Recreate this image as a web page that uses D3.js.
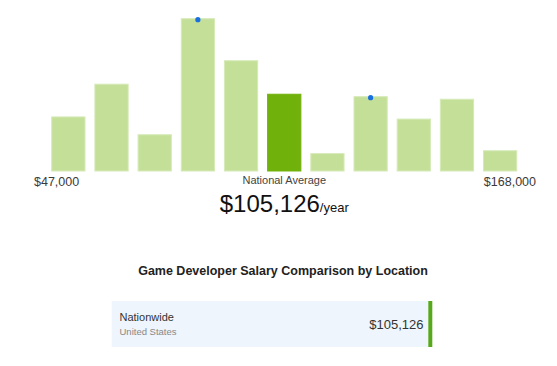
<!DOCTYPE html>
<html>
<head>
<meta charset="utf-8">
<script src="https://d3js.org/d3.v7.min.js"></script>
<style>
body { margin: 0; background: #fff; }
svg text { font-family: "Liberation Sans", Arial, sans-serif; }
</style>
</head>
<body>
<div id="chart"></div>
<script>
// histogram buckets, relative share of salaries (tallest = 100)
var buckets = ["b1", "b2", "b3", "b4", "b5", "b6", "b7", "b8", "b9", "b10", "b11"];
var shares = [35.5, 57, 23.8, 100, 72.4, 50.4, 11.4, 48.8, 34.1, 47.1, 13.3];
var highlightBucket = "b6";          // national average bucket
var dotBuckets = ["b4", "b8"];
var rangeLabels = ["$47,000", "$168,000"];
var avgSalary = 105126;

var locations = ["Nationwide"];
var locationSub = ["United States"];
var locationSalary = [105126];

var width = 557, height = 366;
var svg = d3.select("#chart").append("svg")
    .attr("width", width)
    .attr("height", height);

var x = d3.scaleBand()
    .domain(buckets)
    .range([41.8, 526.7])
    .paddingInner(0.23)
    .paddingOuter(0.23);

var y = d3.scaleLinear()
    .domain([0, 100])
    .range([171, 18.7]);

svg.selectAll("rect.bar")
    .data(buckets)
    .enter()
    .append("rect")
    .attr("class", "bar")
    .attr("x", function(d) { return x(d); })
    .attr("y", function(d, i) { return y(shares[i]); })
    .attr("width", x.bandwidth())
    .attr("height", function(d, i) { return y(0) - y(shares[i]); })
    .style("fill", function(d) { return d == highlightBucket ? "#71b10b" : "#c3df98"; })
    .style("stroke", function(d) { return d == highlightBucket ? "#71b10b" : "#d6eab8"; })
    .style("stroke-width", 1);

svg.selectAll("circle.dot")
    .data(dotBuckets)
    .enter()
    .append("circle")
    .attr("class", "dot")
    .attr("cx", function(d) { return x(d) + x.bandwidth() / 2; })
    .attr("cy", function(d) { return y(shares[buckets.indexOf(d)]) + 1; })
    .attr("r", 2.6)
    .style("fill", "#1a6fe0");

// range labels
svg.append("text")
    .attr("x", 34)
    .attr("y", 186)
    .style("font-size", "12.5px")
    .style("fill", "#3a3a3a")
    .text(rangeLabels[0]);

svg.append("text")
    .attr("x", 536)
    .attr("y", 186)
    .style("text-anchor", "end")
    .style("font-size", "12.5px")
    .style("fill", "#3a3a3a")
    .text(rangeLabels[1]);

var cx = x(highlightBucket) + x.bandwidth() / 2;

svg.append("text")
    .attr("x", cx)
    .attr("y", 184)
    .style("text-anchor", "middle")
    .style("font-size", "11px")
    .style("fill", "#444")
    .text("National Average");

var big = svg.append("text")
    .attr("x", cx)
    .attr("y", 212)
    .style("text-anchor", "middle")
    .style("fill", "#111");
big.append("tspan")
    .style("font-size", "24px")
    .text(d3.format("$,")(avgSalary));
big.append("tspan")
    .style("font-size", "13px")
    .text("/year");

// comparison section
svg.append("text")
    .attr("x", 283)
    .attr("y", 275)
    .style("text-anchor", "middle")
    .style("font-size", "12.5px")
    .style("font-weight", "bold")
    .style("fill", "#222")
    .text("Game Developer Salary Comparison by Location");

var rowX = d3.scaleLinear()
    .domain([0, d3.max(locationSalary)])
    .range([111.7, 428.3]);

var rows = svg.selectAll("g.row")
    .data(locations)
    .enter()
    .append("g")
    .attr("class", "row")
    .attr("transform", function(d, i) { return "translate(0," + (301 + i * 50) + ")"; });

rows.append("rect")
    .attr("x", rowX(0))
    .attr("y", 0)
    .attr("width", function(d, i) { return rowX(locationSalary[i]) - rowX(0); })
    .attr("height", 46)
    .style("fill", "#eef5fc");

rows.append("rect")
    .attr("x", function(d, i) { return rowX(locationSalary[i]); })
    .attr("y", 0)
    .attr("width", 4)
    .attr("height", 46)
    .style("fill", "#58a81c");

rows.append("text")
    .attr("x", 119.5)
    .attr("y", 19.5)
    .style("font-size", "11px")
    .style("fill", "#333")
    .text(function(d) { return d; });

rows.append("text")
    .attr("x", 119.5)
    .attr("y", 34)
    .style("font-size", "9.5px")
    .style("fill", "#888")
    .text(function(d, i) { return locationSub[i]; });

rows.append("text")
    .attr("x", 423.5)
    .attr("y", 27.5)
    .style("text-anchor", "end")
    .style("font-size", "13px")
    .style("fill", "#333")
    .text(function(d, i) { return d3.format("$,")(locationSalary[i]); });
</script>
</body>
</html>
